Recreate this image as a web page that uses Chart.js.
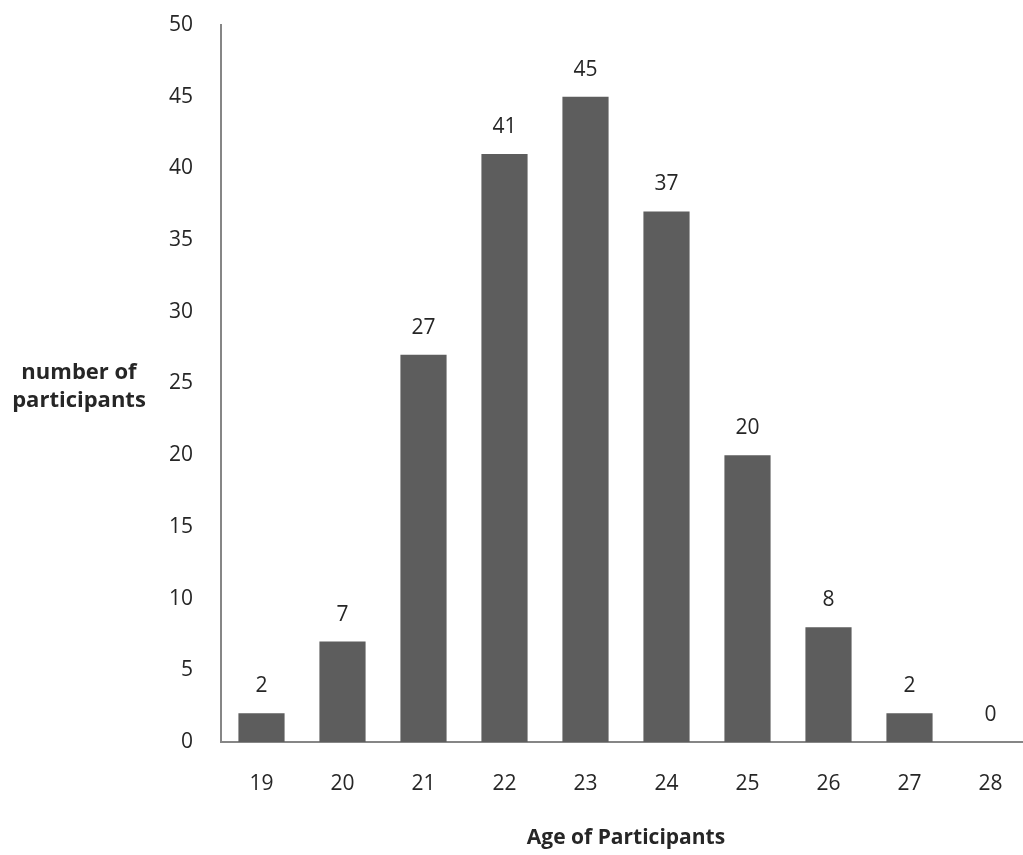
<!DOCTYPE html>
<html>
<head>
<meta charset="utf-8">
<script src="https://cdn.jsdelivr.net/npm/chart.js@4"></script>
<style>
  html, body { margin: 0; padding: 0; background: #ffffff; overflow: hidden; }
  #wrap { width: 1032px; height: 855px; position: relative; }
</style>
</head>
<body>
<div id="wrap"><canvas id="c"></canvas></div>
<script>
// Age groups and participant counts
const ages = ['19', '20', '21', '22', '23', '24', '25', '26', '27', '28'];
const participants = [2, 7, 27, 41, 45, 37, 20, 8, 2, 0];
const yTitleLines = ['number of', 'participants'];
const xTitle = 'Age of Participants';

const FONT = '"Open Sans", "DejaVu Sans", sans-serif';
const TEXT = '#262626';
const AXIS = '#868686';

// Value labels above each bar
const valueLabels = {
  id: 'valueLabels',
  afterDatasetsDraw(chart) {
    const ctx = chart.ctx;
    const meta = chart.getDatasetMeta(0);
    ctx.save();
    ctx.font = '21px ' + FONT;
    ctx.fillStyle = TEXT;
    ctx.textAlign = 'center';
    ctx.textBaseline = 'middle';
    meta.data.forEach((bar, i) => {
      ctx.fillText(String(participants[i]), bar.x, bar.y - 27);
    });
    ctx.restore();
  }
};

// Horizontal y-axis title on the left
const sideTitle = {
  id: 'sideTitle',
  afterDraw(chart) {
    const ctx = chart.ctx;
    const area = chart.chartArea;
    const cy = (area.top + area.bottom) / 2;
    ctx.save();
    ctx.font = 'bold 22px ' + FONT;
    ctx.fillStyle = TEXT;
    ctx.textAlign = 'center';
    ctx.textBaseline = 'middle';
    ctx.fillText(yTitleLines[0], 79, cy - 11);
    ctx.fillText(yTitleLines[1], 79, cy + 17);
    ctx.restore();
  }
};

new Chart(document.getElementById('c'), {
  type: 'bar',
  data: {
    labels: ages,
    datasets: [{
      data: participants,
      backgroundColor: '#5d5d5d',
      borderWidth: 0,
      categoryPercentage: 0.57,
      barPercentage: 1.0
    }]
  },
  options: {
    responsive: true,
    maintainAspectRatio: false,
    animation: false,
    layout: { padding: { top: 25, right: 1, left: 0, bottom: 0 } },
    plugins: {
      legend: { display: false },
      tooltip: { enabled: false }
    },
    scales: {
      x: {
        grid: { display: false, drawTicks: false },
        border: { display: true, color: AXIS, width: 2 },
        ticks: { color: TEXT, font: { family: FONT, size: 21 }, padding: 29 },
        title: {
          display: true, text: xTitle, color: TEXT,
          font: { family: FONT, size: 21, weight: 'bold' },
          padding: { top: 0, bottom: 4 }
        },
        afterFit(scale) { scale.height = 113; }
      },
      y: {
        min: 0, max: 50,
        grid: { display: false, drawTicks: false },
        border: { display: true, color: AXIS, width: 2 },
        ticks: { stepSize: 5, color: TEXT, font: { family: FONT, size: 21 }, padding: 28 },
        afterFit(scale) {
          scale.width = 221;
          scale.paddingTop = 0;
          scale.paddingBottom = 0;
        }
      }
    }
  },
  plugins: [valueLabels, sideTitle]
});
</script>
</body>
</html>
